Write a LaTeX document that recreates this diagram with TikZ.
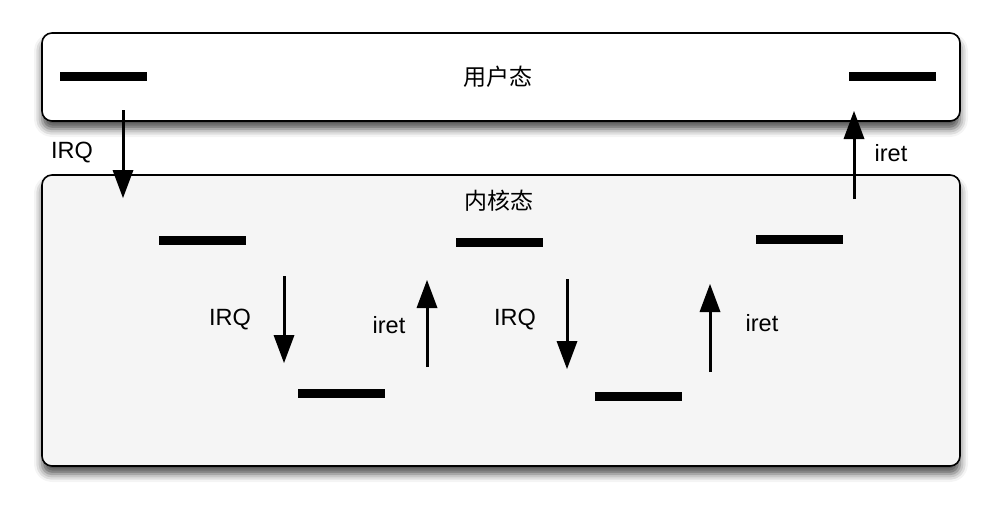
\documentclass[tikz,border=0pt]{standalone}
\usepackage{fontspec}
\setmainfont{Liberation Sans}
\newfontfamily\cjk{Noto Sans CJK SC}
\usetikzlibrary{arrows.meta,shadows.blur}
\definecolor{kernelbg}{HTML}{F5F5F5}
\tikzset{
  statebox/.style={draw=black,line width=1.6pt,rounded corners=10pt,
    blur shadow={shadow xshift=0pt,shadow yshift=-8pt,shadow blur radius=8pt,shadow opacity=70}},
  bar/.style={fill=black,inner sep=0pt,minimum width=87pt,minimum height=9pt},
  flow/.style={line width=3pt,draw=black,
    -{Triangle[length=28pt,width=21pt,fill=black,line width=0pt]}},
  lbl/.style={font=\fontsize{23.5}{28}\selectfont,inner sep=0pt},
  title/.style={font=\cjk\fontsize{23}{28}\selectfont,inner sep=0pt}
}
\begin{document}
\begin{tikzpicture}[x=1pt,y=-1pt]
\useasboundingbox (0,0) rectangle (1000,515);
% boxes
\draw[statebox,fill=kernelbg] (42,175) rectangle (960,466);
\draw[statebox,fill=white] (42,33) rectangle (960,121);
\node[title] (user) at (498,77) {用户态};
\node[title] (kernel) at (499,201) {内核态};
% bars
\node[bar] (u1) at (103.5,76) {};
\node[bar] (u2) at (892.5,76) {};
\node[bar] (k1) at (202,240) {};
\node[bar] (k2) at (499,242) {};
\node[bar] (k3) at (799.5,239) {};
\node[bar] (d1) at (341.5,393) {};
\node[bar] (d2) at (638,396) {};
% arrow endpoints
\coordinate (a1s) at (123,110); \coordinate (a1e) at (123,198);
\coordinate (a2s) at (284,276); \coordinate (a2e) at (284,363);
\coordinate (a3s) at (427,367); \coordinate (a3e) at (427,280);
\coordinate (a4s) at (567,279); \coordinate (a4e) at (567,369);
\coordinate (a5s) at (710,372); \coordinate (a5e) at (710,284);
\coordinate (a6s) at (854,199); \coordinate (a6e) at (854,111);
\draw[flow] (a1s) -- (a1e);
\draw[flow] (a2s) -- (a2e);
\draw[flow] (a3s) -- (a3e);
\draw[flow] (a4s) -- (a4e);
\draw[flow] (a5s) -- (a5e);
\draw[flow] (a6s) -- (a6e);
% labels
\node[lbl] (l1) at (72,153) {IRQ};
\node[lbl] (l2) at (230,320) {IRQ};
\node[lbl] (l3) at (389,325) {iret};
\node[lbl] (l4) at (515,320) {IRQ};
\node[lbl] (l5) at (762,323) {iret};
\node[lbl] (l6) at (891,153) {iret};
\end{tikzpicture}
\end{document}
